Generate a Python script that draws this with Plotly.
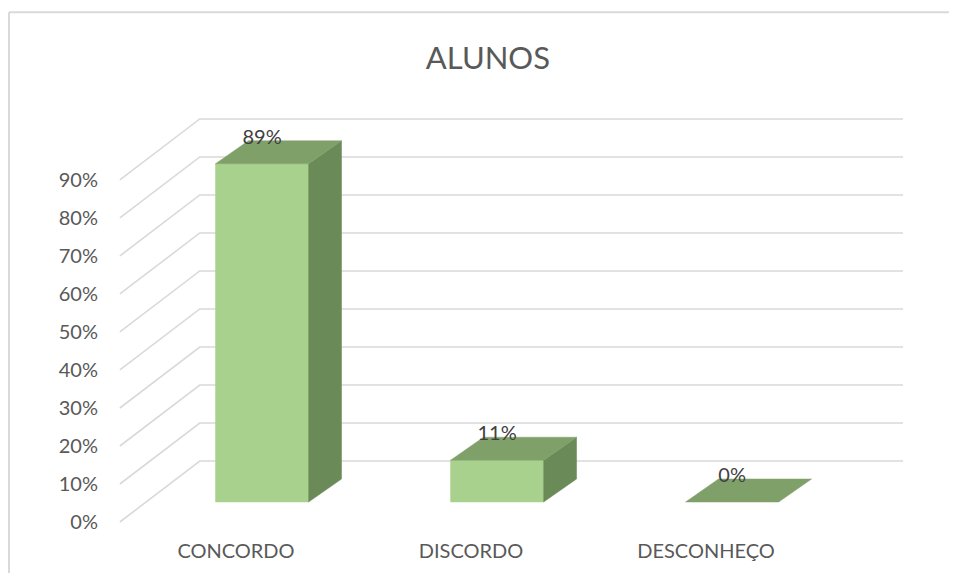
import plotly.graph_objects as go

CATEGORIAS = ['CONCORDO', 'DISCORDO', 'DESCONHEÇO']
VALORES = [89, 11, 0]
TICKS_Y = [0, 10, 20, 30, 40, 50, 60, 70, 80, 90]
TICKS_Y_TXT = ['0%', '10%', '20%', '30%', '40%', '50%', '60%', '70%', '80%', '90%']
TITULO = 'ALUNOS'

FRENTE = '#A9D18E'
TOPO = '#80A06A'
LADO = '#6A8A58'
GRADE = '#D9D9D9'
TEXTO = '#595959'
ROTULO = '#404040'
FONTE = 'Lato, "Liberation Sans", Arial, sans-serif'

# perspectiva (unidades de dados: categoria no x, % no y)
PAREDE_DX, PAREDE_DY = 0.340, 16.05     # profundidade da parede
BARRA_X0, BARRA_Y0 = 0.111, 5.26        # recuo da face frontal da barra
BARRA_DX, BARRA_DY = 0.140, 6.05        # profundidade da barra
MEIA_LARG = 0.198
GRADE_X0, GRADE_X1 = -0.494, 2.838

fig = go.Figure()

# linhas de grade: diagonal lateral + horizontal no fundo
gx, gy = [], []
for t in TICKS_Y:
    gx += [GRADE_X0, GRADE_X0 + PAREDE_DX, GRADE_X1, None]
    gy += [t, t + PAREDE_DY, t + PAREDE_DY, None]
fig.add_trace(go.Scatter(x=gx, y=gy, mode='lines',
                         line=dict(color=GRADE, width=1.6),
                         hoverinfo='skip', showlegend=False))


def face(xs, ys, cor):
    fig.add_trace(go.Scatter(x=xs + [xs[0]], y=ys + [ys[0]], mode='lines',
                             fill='toself', fillcolor=cor,
                             line=dict(color=cor, width=0.5),
                             hoverinfo='skip', showlegend=False))


for i, v in enumerate(VALORES):
    xl = i + BARRA_X0 - MEIA_LARG
    xr = i + BARRA_X0 + MEIA_LARG
    y0 = BARRA_Y0
    y1 = BARRA_Y0 + v
    if v > 0:
        face([xl, xr, xr, xl], [y0, y0, y1, y1], FRENTE)
        face([xr, xr + BARRA_DX, xr + BARRA_DX, xr],
             [y0, y0 + BARRA_DY, y1 + BARRA_DY, y1], LADO)
    face([xl, xr, xr + BARRA_DX, xl + BARRA_DX],
         [y1, y1, y1 + BARRA_DY, y1 + BARRA_DY], TOPO)

fig.add_trace(go.Scatter(
    x=[i + BARRA_X0 for i in range(len(VALORES))],
    y=[v + BARRA_Y0 + 6.6 for v in VALORES],
    mode='text', text=[f'{v}%' for v in VALORES],
    textposition='middle center',
    textfont=dict(family=FONTE, size=20, color=ROTULO),
    hoverinfo='skip', showlegend=False, cliponaxis=False,
))

fig.update_layout(
    width=941, height=565,
    margin=dict(l=102, r=46, t=91, b=44),
    paper_bgcolor='white', plot_bgcolor='white',
    title=dict(text=TITULO, x=0.51, xanchor='center', y=0.912, yanchor='middle',
               font=dict(family=FONTE, size=31, color=TEXTO)),
    font=dict(family=FONTE, size=20, color=TEXTO),
    showlegend=False,
    xaxis=dict(range=[-0.536, 2.838], showgrid=False, zeroline=False,
               showline=False, ticks='', tickvals=list(range(len(CATEGORIAS))),
               ticktext=CATEGORIAS, ticklabelstandoff=8),
    yaxis=dict(range=[-1.84, 111.3], showgrid=False, zeroline=False,
               showline=False, ticks='', tickvals=TICKS_Y,
               ticktext=TICKS_Y_TXT, ticklabelstandoff=11),
    shapes=[
        dict(type='line', xref='paper', yref='paper',
             x0=-0.1274, x1=-0.1274, y0=-0.2, y1=1.202,
             line=dict(color=GRADE, width=2)),
        dict(type='line', xref='paper', yref='paper',
             x0=-0.1274, x1=1.2, y0=1.202, y1=1.202,
             line=dict(color=GRADE, width=2)),
    ],
)

fig.write_html('out.html')
